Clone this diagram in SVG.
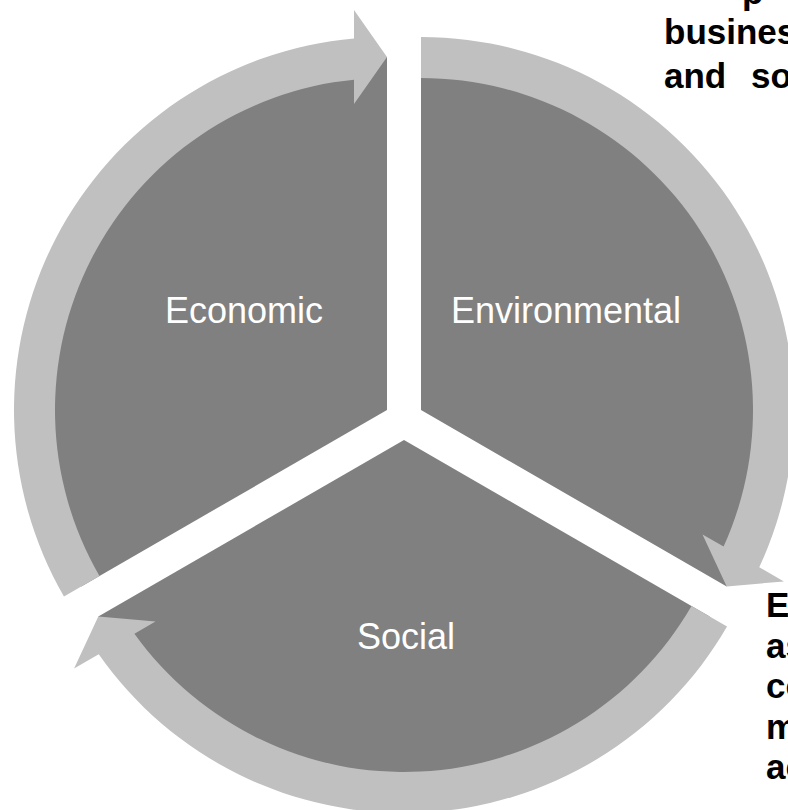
<svg xmlns="http://www.w3.org/2000/svg" width="788" height="810" viewBox="0 0 788 810">
  <style>
    .wedge { fill: #808080; }
    .arrow { fill: #c0c0c0; }
    .label { font-family: "Liberation Sans", Arial, sans-serif; font-size: 36px; fill: #ffffff; text-anchor: middle; }
    .body { font-family: "Liberation Sans", Arial, sans-serif; font-size: 35px; font-weight: bold; fill: #000000; }
  </style>
  <rect width="788" height="810" fill="#ffffff"/>

  <!-- exploded pie segments, radius 353, each apex offset from the hub -->
  <g id="economic">
    <path class="wedge" d="M 387 410 L 387 57 A 353 353 0 0 0 81.29 586.5 Z"/>
  </g>
  <g id="environmental">
    <path class="wedge" d="M 421 410 L 421 57 A 353 353 0 0 1 726.71 586.5 Z"/>
  </g>
  <g id="social">
    <path class="wedge" d="M 404 440 L 709.71 616.5 A 353 353 0 0 1 98.29 616.5 Z"/>
  </g>

  <!-- circular arrows riding on each segment rim -->
  <g id="connectors">
    <path class="arrow" d="M 63.97 596.5 A 373 373 0 0 1 354 38.46 L 354 10 L 387 57 L 354 104 L 354 79.64 A 332 332 0 0 0 99.48 576 Z"/>
    <path class="arrow" d="M 421 37 A 373 373 0 0 1 759.26 567.19 L 783.91 581.42 L 726.71 586.5 L 702.51 534.42 L 723.6 546.6 A 332 332 0 0 0 421 78 Z"/>
    <path class="arrow" d="M 727.03 626.5 A 373 373 0 0 1 98.74 654.35 L 74.09 668.58 L 98.29 616.5 L 155.49 621.58 L 134.41 633.76 A 332 332 0 0 0 691.52 606 Z"/>
  </g>

  <!-- segment labels -->
  <text class="label" x="244" y="323">Economic</text>
  <text class="label" x="566" y="323">Environmental</text>
  <text class="label" x="406" y="649">Social</text>

  <!-- surrounding body text, running past the edge -->
  <text class="body" x="742" y="4">p</text>
  <text class="body" x="664" y="44">business</text>
  <text class="body" x="664" y="88">and<tspan x="751">so</tspan></text>

  <text class="body" x="766" y="617">E</text>
  <text class="body" x="766" y="658">as</text>
  <text class="body" x="766" y="698">co</text>
  <text class="body" x="766" y="739">m</text>
  <text class="body" x="766" y="779">ac</text>
</svg>
